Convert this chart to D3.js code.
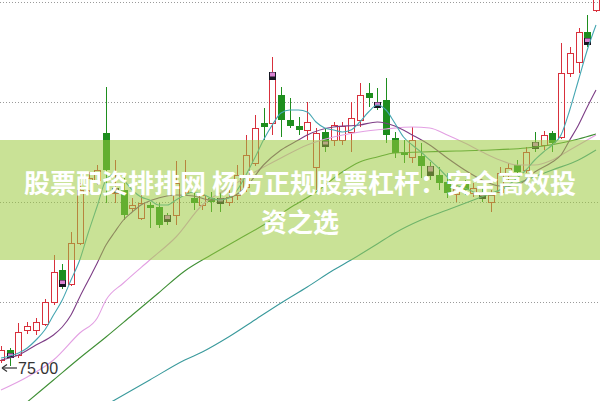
<!DOCTYPE html>
<html><head><meta charset="utf-8">
<script src="https://cdn.jsdelivr.net/npm/d3@7"></script>
<style>html,body{margin:0;padding:0;background:#fff;overflow:hidden}</style>
</head><body>
<svg id="c" width="600" height="401"></svg>
<script>
// ---- data ----
const candleOpen=[75.6,76.6,76.1,78.6,78.6,79.2,81.4,84.6,83.2,87.3,
92.6,93.6,98.3,92.3,92.6,90.8,89.8,91.1,90.9,90.1,
90.1,92.4,91.8,91.1,91.8,91.8,91.4,92.1,92.9,95.3,
99.3,99.3,102.1,99.6,99.0,98.6,94.9,98.4,97.6,97.6,
98.4,99.6,102.3,101.4,101.6,97.8,96.4,95.9,96.0,95.0,
94.1,93.4,92.2,93.2,92.3,92.4,91.4,92.4,94.1,95.1,
94.6,97.4,97.1,98.3,97.9,104.3,105.4,108.4,110.6];
const candleClose=[76.6,75.8,78.4,79.0,79.4,81.4,84.4,82.9,87.3,92.6,
93.8,94.6,94.6,92.7,90.1,91.1,91.3,90.8,89.1,89.4,
93.3,93.6,91.3,92.1,91.4,91.2,91.9,94.1,96.1,98.8,
98.9,103.9,99.6,99.0,98.6,99.4,98.3,96.9,99.1,99.0,
99.8,102.1,101.8,100.8,98.1,96.3,96.1,97.6,95.0,94.0,
93.3,92.3,92.7,92.6,92.8,91.7,92.1,94.3,94.8,94.4,
96.4,96.7,98.1,97.3,104.3,106.3,108.4,107.1,112.1];
const candleHigh=[77.0,76.8,79.3,79.4,79.8,81.7,86.1,85.2,88.4,93.3,
94.4,95.1,102.9,95.6,93.8,91.8,92.1,91.4,91.3,90.3,
95.5,95.6,92.8,92.6,92.4,92.4,92.6,95.1,98.1,100.1,
100.8,105.9,102.9,101.8,99.9,101.4,98.8,98.8,99.4,99.4,
101.4,103.3,103.3,102.8,103.8,98.4,97.6,98.9,97.3,95.4,
94.9,94.3,93.0,93.6,93.3,93.0,92.6,94.9,95.3,95.6,
96.9,98.4,98.5,98.5,107.3,106.9,108.8,110.1,112.4];
const candleLow=[75.3,75.0,75.8,78.2,78.1,79.0,81.1,82.7,83.0,87.1,
92.4,93.1,91.3,91.3,89.6,90.4,89.6,88.8,88.8,89.1,
89.1,92.0,90.6,90.6,90.4,90.4,91.0,91.6,92.4,95.0,
97.6,98.1,97.9,98.8,98.1,97.6,92.6,96.4,97.0,97.1,
96.4,98.9,100.9,100.6,97.3,95.8,95.3,95.3,93.8,93.6,
92.6,91.8,91.4,92.1,91.9,91.4,90.4,92.1,93.6,94.0,
94.3,96.4,96.6,96.4,97.7,103.9,104.3,106.9,110.4];

// signal markers: candle index, top price, bottom price
const markerIndex=[1,7,13,19,25,31,37,43,49,55,61,67];
const markerTop=[76.3,83.6,92.8,90.1,91.8,104.4,97.5,101.4,95.0,92.4,97.4,107.8];
const markerBottom=[75.8,82.9,92.3,89.4,91.2,103.6,96.9,100.8,94.0,91.7,96.7,107.1];

// moving averages: [candle index, price]
const ma5=[[0,75.8],[1,76.0],[2,76.3],[3,76.8],[4,77.6],[5,78.6],[6,80.1],[7,81.6],[8,83.6],[9,85.6],
[10,88.4],[11,91.0],[12,93.6],[13,94.2],[14,93.6],[15,92.6],[16,91.9],[17,91.6],[18,91.1],[19,91.1],
[20,91.6],[21,92.1],[22,92.4],[23,92.2],[24,91.8],[25,91.6],[26,91.8],[27,92.6],[28,94.1],[29,95.8],
[30,97.6],[31,99.1],[32,100.3],[33,100.6],[34,100.6],[35,100.4],[36,99.4],[37,98.8],[38,98.6],[39,98.4],
[40,98.6],[41,99.4],[42,100.4],[43,101.1],[44,100.6],[45,99.3],[46,97.9],[47,97.1],[48,96.4],[49,95.6],
[50,94.8],[51,93.9],[52,93.1],[53,92.8],[54,92.4],[55,92.2],[56,92.1],[57,92.6],[58,93.1],[59,93.8],
[60,94.6],[61,95.6],[62,96.4],[63,97.1],[64,98.1],[65,100.6],[66,103.6],[67,106.6],[68,109.1]];
const ma10=[[0,75.6],[2,76.1],[4,77.1],[6,78.1],[7,78.9],[8,80.1],[9,81.9],[10,83.6],[11,85.3],[12,87.1],
[13,88.4],[14,89.6],[15,90.4],[16,91.1],[18,91.8],[20,92.1],[22,92.0],[24,91.6],[26,91.8],[28,92.9],
[30,95.1],[32,96.6],[34,97.6],[35,98.1],[38,98.9],[41,99.1],[43,99.4],[45,99.0],[47,98.1],[49,97.1],
[51,95.8],[53,94.6],[55,93.6],[57,93.0],[59,93.1],[61,94.4],[63,95.4],[64,96.1],[65,97.6],[66,99.1],
[67,100.9],[68,102.6]];
const ma20=[[0,72.6],[3,73.9],[6,75.6],[9,78.3],[11,79.8],[12,81.6],[14,83.3],[17,85.6],[20,87.9],[23,91.1],
[26,92.8],[29,94.4],[32,95.8],[35,97.1],[38,97.9],[41,98.4],[44,98.7],[47,98.9],[49,98.8],[51,98.1],
[53,97.3],[55,96.4],[57,95.6],[59,95.1],[61,95.1],[63,95.6],[65,96.6],[67,97.6],[68,98.1]];
const ma30=[[3,71.4],[6,73.6],[9,75.8],[12,77.9],[15,80.1],[18,82.3],[21,84.5],[24,86.1],[27,87.6],[30,89.1],
[33,90.8],[36,92.4],[39,94.4],[41,95.4],[43,95.9],[45,96.3],[48,96.4],[52,96.5],[56,96.6],[60,96.8],
[62,97.0],[64,97.3],[66,97.7],[68,98.2]];
const ma60=[[12,71.1],[13,71.6],[17,73.6],[21,75.6],[23,76.4],[26,77.9],[29,79.6],[32,81.3],[35,82.9],[38,84.6],
[40,85.6],[43,87.2],[45,88.3],[48,89.6],[51,90.6],[54,91.6],[57,92.6],[60,93.6],[63,94.6],[66,95.6],[68,96.6]];

const gridLevels=[111.35,101.35,91.35,81.35];
const lowValue=75.0, lowIndex=1, lowLabel="75.00";
const bannerLines=["股票配资排排网 杨方正规股票杠杆：安全高效投","资之选"];

// ---- drawing ----
const W=600,H=401;
const svg=d3.select('#c');
const x=d3.scaleLinear().domain([0,68]).range([1,596]);
const y=d3.scaleLinear().domain([75,111.6]).range([366,0]);
const cx=i=>Math.round(x(i))+0.5;

svg.append('g').selectAll('line').data(gridLevels).join('line')
  .attr('x1',0).attr('x2',W).attr('y1',d=>y(d)).attr('y2',d=>y(d))
  .attr('stroke','#9a9a9a').attr('stroke-width',1).attr('stroke-dasharray','1,2');

const candles=d3.range(candleOpen.length).map(i=>({i,o:candleOpen[i],c:candleClose[i],h:candleHigh[i],l:candleLow[i]}));
const cg=svg.append('g');
candles.forEach(d=>{
  const up=d.c>=d.o;
  const top=y(Math.max(d.o,d.c)), bot=y(Math.min(d.o,d.c));
  const col=up?'#d8303c':'#1e8e1e';
  cg.append('line').attr('x1',cx(d.i)).attr('x2',cx(d.i)).attr('y1',y(d.h)).attr('y2',top).attr('stroke',col);
  cg.append('line').attr('x1',cx(d.i)).attr('x2',cx(d.i)).attr('y1',bot).attr('y2',y(d.l)).attr('stroke',col);
  if(up){
    cg.append('rect').attr('x',cx(d.i)-3).attr('y',Math.round(top)+0.5)
      .attr('width',6).attr('height',Math.max(1,Math.round(bot-top)))
      .attr('fill','none').attr('stroke',col);
  } else {
    cg.append('rect').attr('x',cx(d.i)-3.5).attr('y',top)
      .attr('width',7).attr('height',Math.max(1.5,bot-top)).attr('fill',col);
  }
});

const mg=svg.append('g');
markerIndex.forEach((idx,k)=>{
  const t=y(markerTop[k]), b=y(markerBottom[k]);
  mg.append('rect').attr('x',cx(idx)-3.5).attr('y',t).attr('width',7).attr('height',b-t).attr('fill','#161622');
  mg.append('rect').attr('x',cx(idx)-2.5).attr('y',t+0.5).attr('width',5).attr('height',(b-t)*0.5).attr('fill','#d982d2');
});

const line=d3.line().x(d=>x(d[0])).y(d=>y(d[1])).curve(d3.curveMonotoneX);
const maDefs=[[ma60,'#3a9a9c'],[ma30,'#3f8f35'],[ma20,'#e3a0e3'],[ma10,'#7d3d86'],[ma5,'#45a6b2']];
maDefs.forEach(([data,col])=>{
  svg.append('path').datum(data).attr('d',line).attr('fill','none').attr('stroke',col).attr('stroke-width',1.1);
});

// low label
const ly=y(lowValue)+2;
const ax=x(lowIndex-1)+1;
svg.append('line').attr('x1',ax+1).attr('x2',ax+15).attr('y1',ly).attr('y2',ly).attr('stroke','#333').attr('stroke-width',1.2);
svg.append('path').attr('d',`M${ax},${ly} l5,-3.5 M${ax},${ly} l5,3.5`).attr('stroke','#333').attr('stroke-width',1.2).attr('fill','none');
svg.append('text').attr('x',ax+16).attr('y',ly+6).text(lowLabel)
  .attr('font-family','Liberation Sans, Arial, sans-serif').attr('font-size',16).attr('fill','#333');

// banner overlay
svg.append('rect').attr('x',0).attr('y',140).attr('width',W).attr('height',120).attr('fill','rgba(157,202,64,0.55)');
svg.selectAll('text.ban').data(bannerLines).join('text').attr('class','ban')
  .attr('x',300).attr('y',(d,i)=>181+i*39).attr('dominant-baseline','central')
  .attr('text-anchor','middle').attr('fill','#fff')
  .attr('font-family','"Noto Sans CJK SC", sans-serif').attr('font-weight',700).attr('font-size',26)
  .text(d=>d);
</script>
</body></html>
